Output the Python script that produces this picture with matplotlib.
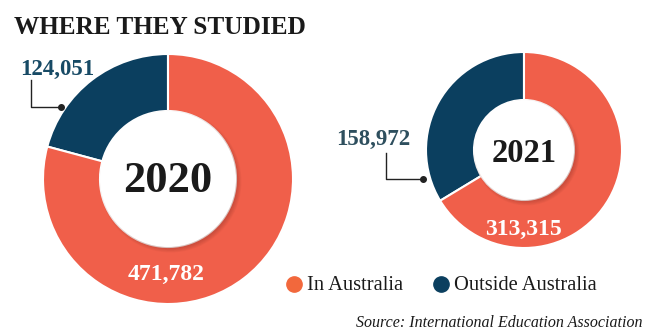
import matplotlib
matplotlib.use("Agg")
import matplotlib.pyplot as plt
from matplotlib.patches import Circle

# student numbers, outside Australia first so it starts at 12 o'clock
years = ["2020", "2021"]
outside = [124051, 158972]
inside = [471782, 313315]
legend_labels = ["In Australia", "Outside Australia"]
source = "Source: International Education Association"

RED = "#f05f4a"
NAVY = "#0b3f5f"
LEG_RED = "#f2683c"

W, H = 650, 336
fig = plt.figure(figsize=(W / 100, H / 100), dpi=100)
ax = fig.add_axes([0, 0, 1, 1])

SERIF = "Liberation Serif"


def Y(y):
    # top-down pixel rows -> axes coords
    return H - y


# centre x, centre y, outer radius, inner radius
donuts = [
    (168, 179, 125, 68),
    (524, 150, 98, 50),
]

for i, (cx, cy, r_out, r_in) in enumerate(donuts):
    ax.pie([outside[i], inside[i]], colors=[NAVY, RED], startangle=90,
           counterclock=True, center=(cx, Y(cy)), radius=r_out,
           wedgeprops=dict(width=r_out - r_in, edgecolor="white", linewidth=1.5))
    # soft shadow under the white hole
    for k in range(6):
        ax.add_patch(Circle((cx + 2.5, Y(cy) - 2.5), r_in + 3 - k * 0.8,
                            facecolor="#7a2a20", edgecolor="none", alpha=0.05, zorder=3))
    ax.add_patch(Circle((cx, Y(cy)), r_in, facecolor="white", edgecolor="none", zorder=4))

# year in the middle
ax.text(168, Y(181), years[0], ha="center", va="center", fontsize=32, fontweight="bold",
        family=SERIF, color="#1a1a1a", zorder=5)
ax.text(524, Y(153), years[1], ha="center", va="center", fontsize=23.5, fontweight="bold",
        family=SERIF, color="#1a1a1a", zorder=5)

# in-Australia counts, on the red arc
ax.text(166, Y(274), f"{inside[0]:,}", ha="center", va="center", fontsize=17,
        fontweight="bold", family=SERIF, color="white", zorder=5)
ax.text(523, Y(229), f"{inside[1]:,}", ha="center", va="center", fontsize=17,
        fontweight="bold", family=SERIF, color="white", zorder=5)

# outside-Australia counts with leader lines
ax.text(57, Y(69), f"{outside[0]:,}", ha="center", va="center", fontsize=16.5,
        fontweight="bold", family=SERIF, color="#174a65")
ax.plot([31, 31, 61], [Y(80), Y(107), Y(107)], color="#222222", lw=1)
ax.plot([61], [Y(107)], "o", color="#222222", ms=4)

ax.text(373, Y(139), f"{outside[1]:,}", ha="center", va="center", fontsize=16.5,
        fontweight="bold", family=SERIF, color="#2e4f5e")
ax.plot([386, 386, 423], [Y(153), Y(179), Y(179)], color="#222222", lw=1)
ax.plot([423], [Y(179)], "o", color="#222222", ms=4)

# title
ax.text(14, Y(28), "WHERE THEY STUDIED", ha="left", va="center", fontsize=18.2,
        fontweight="bold", family=SERIF, color="#1a1a1a")

# legend
ax.plot([294], [Y(284)], "o", color=LEG_RED, ms=11)
ax.text(307, Y(285), legend_labels[0], ha="left", va="center", fontsize=14.8,
        family=SERIF, color="#1a1a1a")
ax.plot([441], [Y(284)], "o", color=NAVY, ms=11)
ax.text(454, Y(285), legend_labels[1], ha="left", va="center", fontsize=14.8,
        family=SERIF, color="#1a1a1a")

ax.text(643, Y(323), source, ha="right", va="center", fontsize=11.5,
        style="italic", family=SERIF, color="#1a1a1a")

ax.set_xlim(0, W)
ax.set_ylim(0, H)
ax.set_aspect("equal")
ax.axis("off")

fig.savefig("out.png", dpi=100, facecolor="white")
